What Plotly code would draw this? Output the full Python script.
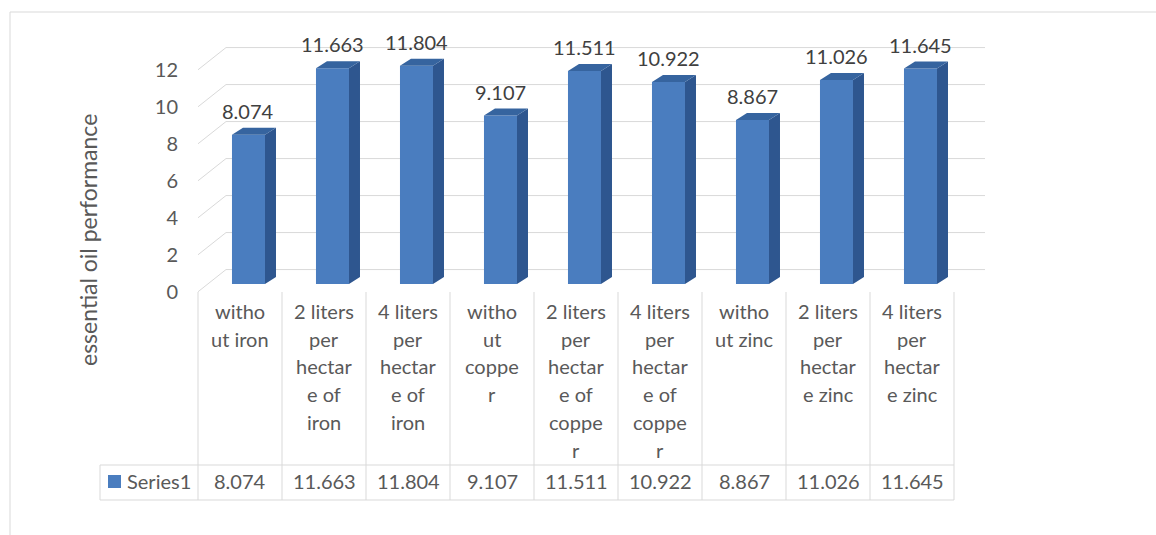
import plotly.graph_objects as go

# ---------------- data ----------------
category_lines = [
    ["witho", "ut iron"],
    ["2 liters", "per", "hectar", "e of", "iron"],
    ["4 liters", "per", "hectar", "e of", "iron"],
    ["witho", "ut", "coppe", "r"],
    ["2 liters", "per", "hectar", "e of", "coppe", "r"],
    ["4 liters", "per", "hectar", "e of", "coppe", "r"],
    ["witho", "ut zinc"],
    ["2 liters", "per", "hectar", "e zinc"],
    ["4 liters", "per", "hectar", "e zinc"],
]
values = [8.074, 11.663, 11.804, 9.107, 11.511, 10.922, 8.867, 11.026, 11.645]
series_name = "Series1"
y_ticks = [0, 2, 4, 6, 8, 10, 12]
y_title = "essential oil performance"

# ---------------- style / geometry ----------------
W, H = 1156, 535
PL, PR, PT, PB = 198, 985, 30, 292          # plot area in pixels
COL = 84.0                                   # pixels per category
YPX = 18.5                                   # pixels per unit
XMIN = -0.5
XMAX = XMIN + (PR - PL) / COL
YMAX = (284 - PT) / YPX
YMIN = (284 - PB) / YPX

FRONT = "#4a7dbf"
SIDE = "#2e568f"
TOP = "#36649f"
GRID = "#d9d9d9"
TXT = "#595959"
LBL = "#404040"
FONT = "Lato"
FS = 20

BAR_OFF = 0.101      # bar front face offset from column centre
BAR_W = 0.393
DX = 11 / COL        # depth of bar in x units
DY = 7 / YPX         # depth of bar in y units
WALL_DX = 28 / COL
FRONT_OFF = -0.42
BACK_OFF = 0.78


def xp(px):
    return (px - PL) / (PR - PL)


def yp(py):
    return (PB - py) / (PB - PT)


n = len(values)
xs = [i + BAR_OFF for i in range(n)]

fig = go.Figure()

# front faces
fig.add_trace(go.Bar(x=xs, y=values, width=BAR_W, marker=dict(color=FRONT, line=dict(width=0)),
                     name=series_name, showlegend=False, hoverinfo="skip"))

# side faces and top faces
sx, sy, tx, ty = [], [], [], []
for x, v in zip(xs, values):
    x1 = x + BAR_W / 2
    x0 = x - BAR_W / 2
    sx += [x1, x1 + DX, x1 + DX, x1, x1, None]
    sy += [0, DY, v + DY, v, 0, None]
    tx += [x0, x1, x1 + DX, x0 + DX, x0, None]
    ty += [v, v, v + DY, v + DY, v, None]
fig.add_trace(go.Scatter(x=sx, y=sy, mode="lines", fill="toself", fillcolor=SIDE,
                         line=dict(width=0, color=SIDE), showlegend=False, hoverinfo="skip"))
fig.add_trace(go.Scatter(x=tx, y=ty, mode="lines", fill="toself", fillcolor=TOP,
                         line=dict(width=0, color=TOP), showlegend=False, hoverinfo="skip"))

shapes = []
# 3D gridlines (side wall + back wall)
for v in y_ticks:
    yf = v + FRONT_OFF
    yb = v + BACK_OFF
    shapes.append(dict(type="path", xref="x", yref="y", layer="below",
                       path=f"M {XMIN},{yf} L {XMIN + WALL_DX},{yb} L {XMAX},{yb}",
                       line=dict(color=GRID, width=1)))

# data labels
annotations = []
for x, v in zip(xs, values):
    annotations.append(dict(x=x, y=v, xref="x", yref="y", text=f"{v:.3f}", showarrow=False,
                            yshift=24, yanchor="middle", font=dict(family=FONT, size=FS, color=LBL)))

# data table
T_TOP, T_ROW, T_BOT = 292, 465, 500
LEFT_CELL = 100
for k in range(n + 1):
    px = PL + COL * k
    shapes.append(dict(type="line", xref="paper", yref="paper", x0=xp(px), x1=xp(px),
                       y0=yp(T_TOP), y1=yp(T_BOT), line=dict(color=GRID, width=1)))
for py in (T_ROW, T_BOT):
    shapes.append(dict(type="line", xref="paper", yref="paper", x0=xp(LEFT_CELL), x1=xp(PL + COL * n),
                       y0=yp(py), y1=yp(py), line=dict(color=GRID, width=1)))
shapes.append(dict(type="line", xref="paper", yref="paper", x0=xp(LEFT_CELL), x1=xp(LEFT_CELL),
                   y0=yp(T_ROW), y1=yp(T_BOT), line=dict(color=GRID, width=1)))
# legend key
shapes.append(dict(type="rect", xref="paper", yref="paper", x0=xp(108), x1=xp(121),
                   y0=yp(475), y1=yp(488), fillcolor=FRONT, line=dict(width=0)))
# chart border
shapes.append(dict(type="rect", xref="paper", yref="paper", x0=xp(10), x1=xp(W + 20),
                   y0=yp(12), y1=yp(H + 20), line=dict(color=GRID, width=1), layer="below"))

LINE0, LSP = 311, 27.7
for i, lines in enumerate(category_lines):
    for j, t in enumerate(lines):
        annotations.append(dict(x=i, y=yp(LINE0 + LSP * j), xref="x", yref="paper", text=t,
                                showarrow=False, yanchor="middle",
                                font=dict(family=FONT, size=FS, color=TXT)))
    annotations.append(dict(x=i, y=yp(481), xref="x", yref="paper", text=f"{values[i]:.3f}",
                            showarrow=False, yanchor="middle",
                            font=dict(family=FONT, size=FS, color=TXT)))
annotations.append(dict(x=xp(125), y=yp(481), xref="paper", yref="paper", text=series_name,
                        showarrow=False, xanchor="left", yanchor="middle",
                        font=dict(family=FONT, size=FS, color=TXT)))
annotations.append(dict(x=xp(88), y=yp(240), xref="paper", yref="paper", text=y_title,
                        showarrow=False, textangle=-90, xanchor="center", yanchor="middle",
                        font=dict(family=FONT, size=23, color=TXT)))

fig.update_layout(
    width=W, height=H,
    margin=dict(l=PL, r=W - PR, t=PT, b=H - PB, pad=0),
    paper_bgcolor="white", plot_bgcolor="rgba(0,0,0,0)",
    shapes=shapes, annotations=annotations, showlegend=False,
    xaxis=dict(range=[XMIN, XMAX], showgrid=False, zeroline=False, showticklabels=False,
               showline=False, fixedrange=True),
    yaxis=dict(range=[YMIN, YMAX], showgrid=False, zeroline=False, showline=False,
               tickvals=[v + FRONT_OFF for v in y_ticks], ticktext=[str(v) for v in y_ticks],
               ticks="", ticklabelstandoff=19,
               tickfont=dict(family=FONT, size=FS, color=TXT), fixedrange=True),
    font=dict(family=FONT, size=FS, color=TXT),
)

fig.write_html("out.html")
